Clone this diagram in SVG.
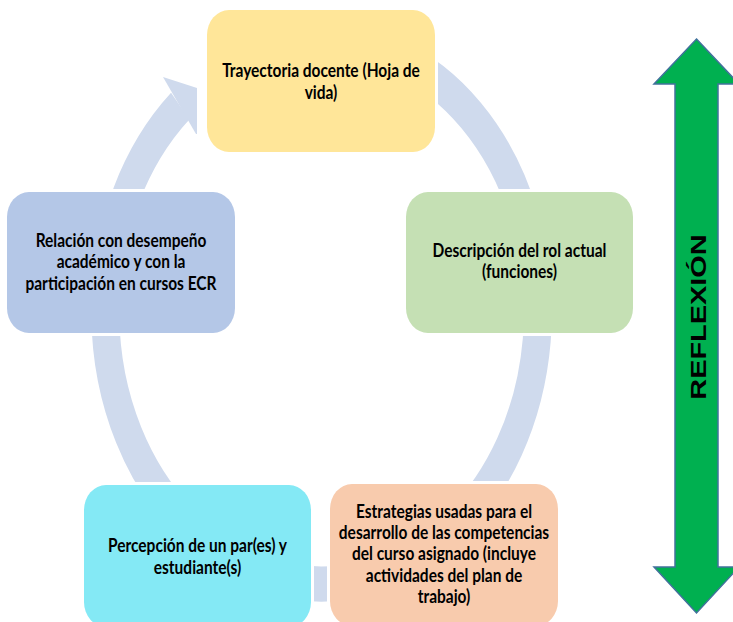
<svg xmlns="http://www.w3.org/2000/svg" width="733" height="622" viewBox="0 0 733 622">
<defs>
<style>
.node rect { stroke: #ffffff; stroke-width: 6; paint-order: stroke; }
.lbl { font-family: "Lato", "Liberation Sans", sans-serif; font-weight: bold; font-size: 15.5px; fill: #000000; text-anchor: middle; }
.ring { fill: none; stroke: #CFDAED; stroke-width: 28; }
</style>
</defs>
<rect x="0" y="0" width="733" height="622" fill="#ffffff"/>
<g id="connectors">
  <g transform="translate(321.5 312) scale(1 1.2575)">
    <path class="ring" d="M 74 -203.3 A 216.3 216.3 0 1 1 -141.3 -163.7"/>
  </g>
  <polygon points="163,77 197,88 197,134 196,134" fill="#CFDAED"/>
</g>
<g id="node-trayectoria" class="node">
  <rect x="207" y="10" width="228" height="142" rx="22" ry="25" fill="#FFE699"/>
  <text class="lbl" transform="matrix(1 0 0 1.2575 321 77.3)"><tspan x="0" y="0">Trayectoria docente (Hoja de</tspan><tspan x="0" y="17.3">vida)</tspan></text>
</g>
<g id="node-descripcion" class="node">
  <rect x="406" y="192" width="227" height="141" rx="22" ry="25" fill="#C5E0B4"/>
  <text class="lbl" transform="matrix(1 0 0 1.2575 519.5 257)"><tspan x="0" y="0">Descripción del rol actual</tspan><tspan x="0" y="17.1">(funciones)</tspan></text>
</g>
<g id="node-estrategias" class="node">
  <rect x="330" y="484" width="228" height="142" rx="22" ry="25" fill="#F8CBAD"/>
  <text class="lbl" transform="matrix(1 0 0 1.2575 444 518)"><tspan x="0" y="0">Estrategias usadas para el</tspan><tspan x="0" y="16.9">desarrollo de las competencias</tspan><tspan x="0" y="33.8">del curso asignado (incluye</tspan><tspan x="0" y="50.7">actividades del plan de</tspan><tspan x="0" y="67.6">trabajo)</tspan></text>
</g>
<g id="node-percepcion" class="node">
  <rect x="84" y="485" width="227" height="142" rx="22" ry="25" fill="#84E9F5"/>
  <text class="lbl" transform="matrix(1 0 0 1.2575 197.5 552.2)"><tspan x="0" y="0">Percepción de un par(es) y</tspan><tspan x="0" y="17.1">estudiante(s)</tspan></text>
</g>
<g id="node-relacion" class="node">
  <rect x="7" y="192" width="228" height="141" rx="22" ry="25" fill="#B4C7E7"/>
  <text class="lbl" transform="matrix(1 0 0 1.2575 121 247)"><tspan x="0" y="0">Relación con desempeño</tspan><tspan x="0" y="17.1">académico y con la</tspan><tspan x="0" y="34.2">participación en cursos ECR</tspan></text>
</g>
<g id="reflexion">
  <polygon points="696.5,39 739,84 718,84 718,567 739,567 696.5,613 654,567 675,567 675,84 654,84" fill="#00B050" stroke="#41719C" stroke-width="1.5" stroke-linejoin="miter"/>
  <text transform="translate(706 317) scale(1 1.2575) rotate(-90)" font-family="Liberation Sans, Arial, sans-serif" font-weight="bold" font-size="23" text-anchor="middle" fill="#000000">REFLEXIÓN</text>
</g>
</svg>
